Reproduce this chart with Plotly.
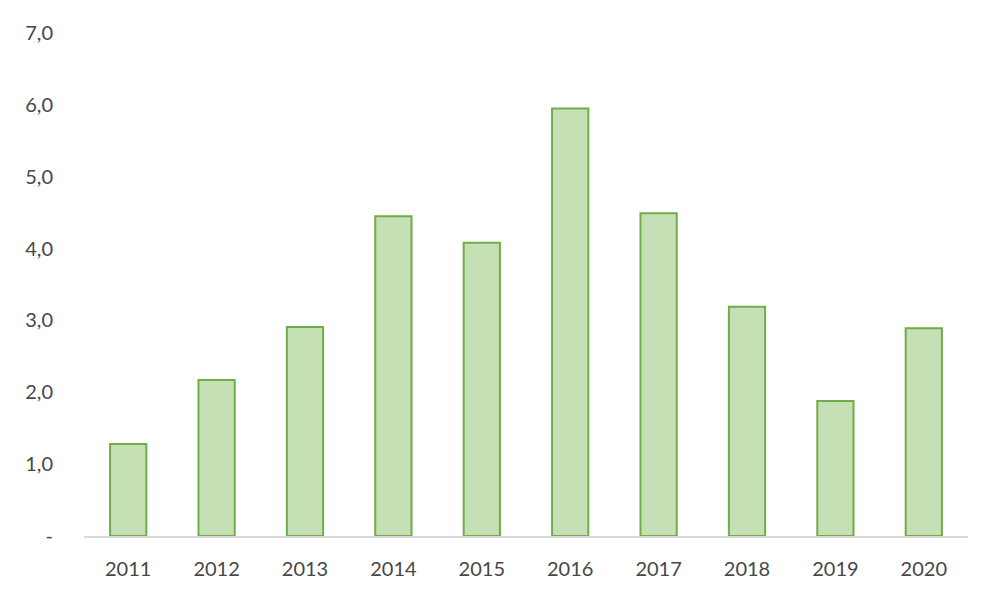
import plotly.graph_objects as go

years = ["2011", "2012", "2013", "2014", "2015", "2016", "2017", "2018", "2019", "2020"]
values = [1.28, 2.17, 2.91, 4.45, 4.08, 5.95, 4.49, 3.19, 1.88, 2.89]
tick_vals = [0, 1, 2, 3, 4, 5, 6, 7]
tick_text = ["-", "1,0", "2,0", "3,0", "4,0", "5,0", "6,0", "7,0"]

fig = go.Figure(go.Bar(
    x=years, y=values,
    marker=dict(color="#C5E0B4", line=dict(color="#70AD47", width=2)),
))
fig.update_layout(
    width=992, height=592,
    margin=dict(l=76, r=32, t=25, b=64),
    plot_bgcolor="white", paper_bgcolor="white",
    bargap=0.59,
    showlegend=False,
    font=dict(family="Lato, Open Sans, sans-serif", size=20, color="#474747"),
)
fig.update_xaxes(type="category", showline=True, linecolor="#D9D9D9", linewidth=1.5,
                 ticks="", showgrid=False, automargin=False, ticklabelstandoff=14)
fig.update_yaxes(range=[0, 7], tickvals=tick_vals, ticktext=tick_text, showgrid=False,
                 zeroline=False, showline=False, ticks="", ticklabelstandoff=30,
                 automargin=False)
fig.write_html("out.html")
